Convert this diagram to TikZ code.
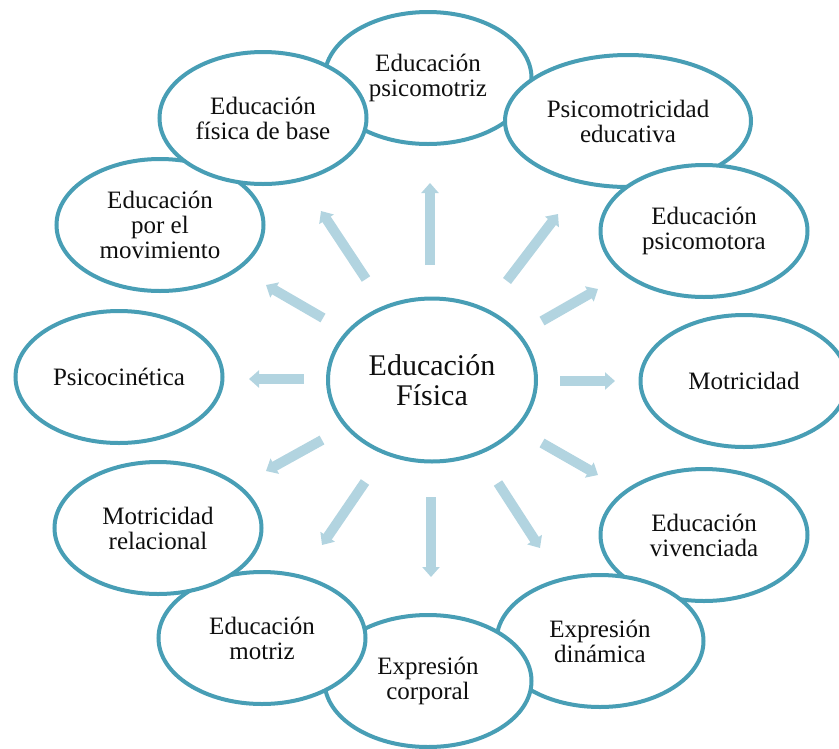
\documentclass[tikz,border=0pt]{standalone}
\usepackage{fontspec}
\setmainfont{Liberation Serif}
\usetikzlibrary{arrows.meta,shapes.geometric}
\definecolor{ring}{RGB}{72,158,181}
\definecolor{arr}{RGB}{178,212,224}
\definecolor{ink}{RGB}{15,15,15}
\begin{document}
\begin{tikzpicture}[x=1pt,y=-1pt,
  bubble/.style={ellipse, draw=ring, line width=4pt, fill=white, minimum width=207pt, minimum height=132pt, inner sep=0pt},
  lbl/.style={align=center, text=ink, font=\fontsize{25}{25}\selectfont, inner sep=0pt},
  biglbl/.style={align=center, text=ink, font=\fontsize{30}{30}\selectfont, inner sep=0pt},
  blk/.style={draw=arr, line width=10pt, -{Triangle[width=17pt,length=10pt]}}]
\useasboundingbox (0,0) rectangle (839,748);
% outer ellipses, clockwise from top
\node[bubble] (n1) at (428,78) {};
\node[lbl] at (n1) {Educación\\psicomotriz};
\node[bubble, minimum width=246pt] (n2) at (628,121) {};
\node[lbl] at (n2) {Psicomotricidad\\educativa};
\node[bubble] (n3) at (704,231) {};
\node[lbl] at (n3) {Educación\\psicomotora};
\node[bubble] (n4) at (744,381) {};
\node[lbl] at (n4) {Motricidad};
\node[bubble] (n5) at (704,535) {};
\node[lbl] at (n5) {Educación\\vivenciada};
\node[bubble] (n6) at (600,641) {};
\node[lbl] at (n6) {Expresión\\dinámica};
\node[bubble] (n7) at (428,681) {};
\node[lbl] at (n7) {Expresión\\corporal};
\node[bubble] (n8) at (262,638) {};
\node[lbl] at (n8) {Educación\\motriz};
\node[bubble] (n9) at (158,528) {};
\node[lbl] at (n9) {Motricidad\\relacional};
\node[bubble] (n10) at (119,377) {};
\node[lbl] at (n10) {Psicocinética};
\node[bubble] (n11) at (160,225) {};
\node[lbl] at (n11) {Educación\\por el\\movimiento};
\node[bubble] (n12) at (263,118) {};
\node[lbl] at (n12) {Educación\\física de base};
% centre
\node[bubble, minimum width=208pt, minimum height=163pt] (c) at (432,380) {};
\node[biglbl] at (c) {Educación\\Física};
% arrow end points
\coordinate (s1) at (430,265);  \coordinate (e1) at (430,183);
\coordinate (s2) at (507,281);  \coordinate (e2) at (558,214);
\coordinate (s3) at (542,321);  \coordinate (e3) at (598,289);
\coordinate (s4) at (560,381);  \coordinate (e4) at (615,381);
\coordinate (s5) at (542,443);  \coordinate (e5) at (598,475);
\coordinate (s6) at (498,483);  \coordinate (e6) at (540,548);
\coordinate (s7) at (431,497);  \coordinate (e7) at (431,577);
\coordinate (s8) at (365,482);  \coordinate (e8) at (322,545);
\coordinate (s9) at (322,440);  \coordinate (e9) at (266,471);
\coordinate (s10) at (304,379); \coordinate (e10) at (249,379);
\coordinate (s11) at (323,318); \coordinate (e11) at (266,285);
\coordinate (s12) at (366,279); \coordinate (e12) at (321,211);
\foreach \i in {1,...,12} { \draw[blk] (s\i) -- (e\i); }
\end{tikzpicture}
\end{document}
